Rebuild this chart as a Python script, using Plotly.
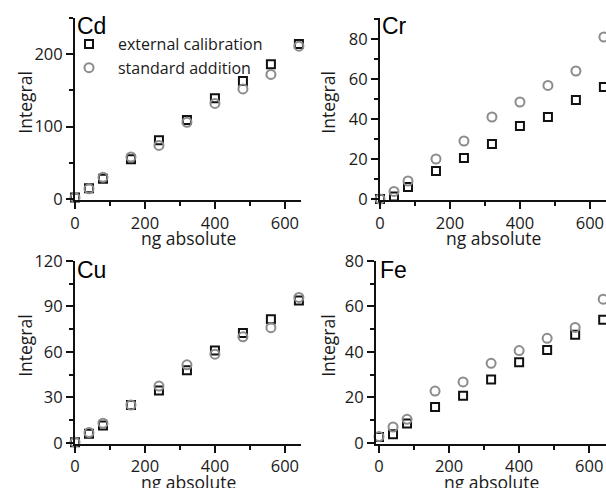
import plotly.graph_objects as go

# Amount of analyte added (ng absolute)
ng = [0, 40, 80, 160, 240, 320, 400, 480, 560, 640]

# Integrated signal per element: external calibration vs standard addition
cd_ext = [2, 15, 28, 55, 81, 109, 139, 163, 186, 214]
cd_std = [2, 14, 30, 58, 74, 106, 132, 152, 172, 211]
cr_ext = [0, 1.2, 6, 14, 20.5, 27.5, 36.5, 41, 49.5, 56]
cr_std = [0, 3.8, 9, 20, 29, 41, 48.5, 56.8, 64, 81]
cu_ext = [0.5, 6, 11.5, 25, 34.5, 48, 61, 72.5, 81.5, 94]
cu_std = [0.5, 6.8, 13, 25, 37.5, 51.5, 58.5, 70, 76, 96]
fe_ext = [2.6, 3.8, 8.5, 15.8, 20.8, 27.9, 35.5, 40.9, 47.6, 54.2]
fe_std = [2.8, 7, 10.4, 22.8, 26.8, 35, 40.6, 46, 50.8, 63.2]

x_title = "ng absolute"
y_title = "Integral"

panels = [
    # name, ext, std, y-range, y major, y minor, x-range
    ("Cd", cd_ext, cd_std, [-1.4, 250], 100, 50, [0, 646]),
    ("Cr", cr_ext, cr_std, [-0.5, 90.5], 20, 10, [0, 646]),
    ("Cu", cu_ext, cu_std, [-0.4, 120], 30, 15, [0, 646]),
    ("Fe", fe_ext, fe_std, [-0.25, 80], 20, 10, [-8.6, 648]),
]

W, H = 606, 488
# plot-area pixel boxes (left, right, top, bottom) and y-title centre x
boxes = [(75, 301, 18, 200), (380, 606, 18, 200),
         (75, 301, 261, 443.5), (376, 606, 261, 443.5)]
ytitle_x = [25, 328, 25, 328]
name_dx = [0, 0, 0, 0.01]

TICK_FONT = dict(family="Open Sans", size=16.5, color="#1a1a1a")
TITLE_FONT = dict(family="Open Sans", size=17.5, color="#1a1a1a")
INK = "#111"
GREY = "#8c8c8c"

fig = go.Figure()
annotations = []

for i, (name, ext, std, yr, ymaj, ymin, xr) in enumerate(panels):
    n = i + 1
    xa = "x" if n == 1 else f"x{n}"
    ya = "y" if n == 1 else f"y{n}"
    l, r, t, b = boxes[i]
    fig.add_trace(go.Scatter(
        x=ng, y=ext, mode="markers", xaxis=xa, yaxis=ya,
        name="external calibration", showlegend=(i == 0), cliponaxis=False,
        marker=dict(symbol="square-open", size=8, color=INK,
                    line=dict(width=2, color=INK)),
    ))
    fig.add_trace(go.Scatter(
        x=ng, y=std, mode="markers", xaxis=xa, yaxis=ya,
        name="standard addition", showlegend=(i == 0), cliponaxis=False,
        marker=dict(symbol="circle-open", size=9, color=GREY,
                    line=dict(width=2, color=GREY)),
    ))
    common = dict(
        showline=True, linecolor=INK, linewidth=2, showgrid=False,
        zeroline=False, ticks="outside", ticklen=7, tickwidth=1.5,
        tickcolor=INK, tickfont=TICK_FONT, automargin=False,
    )
    fig.layout[f"xaxis{'' if n == 1 else n}"] = dict(
        common, domain=[l / W, r / W], range=xr, anchor=ya,
        tick0=0, dtick=200,
        minor=dict(ticks="outside", ticklen=4, tickwidth=1.5,
                   tickcolor=INK, dtick=100, tick0=0),
    )
    fig.layout[f"yaxis{'' if n == 1 else n}"] = dict(
        common, domain=[(H - b) / H, (H - t) / H], range=yr, anchor=xa,
        tick0=0, dtick=ymaj,
        minor=dict(ticks="outside", ticklen=4, tickwidth=1.5,
                   tickcolor=INK, dtick=ymin, tick0=0),
    )
    # element label in the top-left corner of each panel
    annotations.append(dict(
        text=name, xref=f"{xa} domain", yref=f"{ya} domain",
        x=name_dx[i], y=1 + 6.5 / (b - t), xanchor="left", yanchor="top",
        showarrow=False,
        font=dict(family="Liberation Sans", size=23, color="#000"),
    ))
    # axis titles
    annotations.append(dict(
        text=x_title, xref=f"{xa} domain", yref=f"{ya} domain",
        x=0.5, y=-38.5 / (b - t), xanchor="center", yanchor="middle",
        showarrow=False, font=TITLE_FONT,
    ))
    annotations.append(dict(
        text=y_title, xref="paper", yref=f"{ya} domain",
        x=ytitle_x[i] / W, y=0.535, xanchor="center", yanchor="middle",
        textangle=-90, showarrow=False, font=TITLE_FONT,
    ))

fig.update_layout(
    width=W, height=H, margin=dict(l=0, r=0, t=0, b=0, autoexpand=False),
    paper_bgcolor="white", plot_bgcolor="white",
    annotations=annotations,
    legend=dict(x=0.099, y=1 - 27 / H, xanchor="left", yanchor="top",
                itemwidth=48, bgcolor="rgba(0,0,0,0)",
                font=dict(family="Open Sans", size=16, color="#1a1a1a")),
)

fig.write_html("out.html")
